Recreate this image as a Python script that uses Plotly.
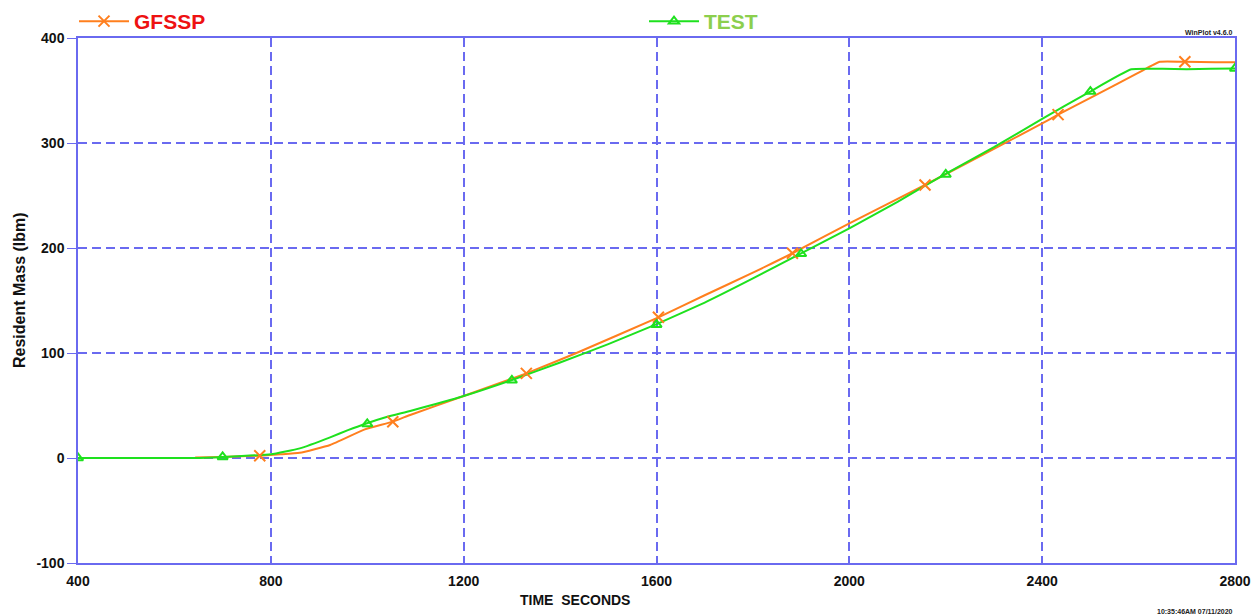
import plotly.graph_objects as go

# ---- data ----
gfssp_time = [643, 700, 777, 820, 860, 923, 995, 1053, 1089, 1200, 1330, 1434, 1604, 1700,
              1800, 1882, 2000, 2157, 2300, 2400, 2433, 2500, 2600, 2644, 2696, 2760, 2800]
gfssp_mass = [0.5, 1.0, 2.2, 3.5, 5.0, 12.4, 27.3, 34.6, 41.0, 59.0, 80.6, 100.0, 134.0, 155.0,
              176.5, 195.0, 223.5, 260.0, 294.5, 318.7, 327.0, 343.0, 367.0, 377.4, 377.4, 376.8, 376.8]
gfssp_mark_time = [777, 1053, 1330, 1604, 1882, 2157, 2433, 2696]
gfssp_mark_mass = [2.2, 34.6, 80.6, 134.0, 195.0, 260.0, 327.0, 377.4]

test_time = [400, 640, 700, 800, 860, 923, 960, 995, 1040, 1089, 1200, 1296, 1400, 1500, 1598,
             1700, 1800, 1896, 2000, 2100, 2195, 2300, 2400, 2492, 2585, 2650, 2700, 2750, 2800]
test_mass = [0.0, 0.0, 1.0, 3.5, 9.2, 19.7, 26.5, 32.4, 39.0, 44.8, 59.0, 73.6, 91.0, 108.5, 127.0,
             148.0, 171.0, 194.0, 218.7, 244.0, 269.5, 296.0, 323.0, 347.0, 370.2, 370.6, 370.3,
             370.8, 371.0]
test_mark_time = [400, 700, 1000, 1300, 1600, 1900, 2200, 2500, 2800]
test_mark_mass = [0.0, 1.0, 32.5, 74.0, 127.0, 194.5, 270.0, 349.0, 371.0]

x_ticks = [400, 800, 1200, 1600, 2000, 2400, 2800]
y_ticks = [-100, 0, 100, 200, 300, 400]

ORANGE = "#FF7F1E"
GREEN = "#1EE11E"
BLUE = "#6A6AF0"

fig = go.Figure()

# lines
fig.add_trace(go.Scatter(x=gfssp_time, y=gfssp_mass, mode="lines",
                         line=dict(color=ORANGE, width=2, shape="spline", smoothing=0.4),
                         showlegend=False, hoverinfo="skip"))
fig.add_trace(go.Scatter(x=test_time, y=test_mass, mode="lines",
                         line=dict(color=GREEN, width=2, shape="spline", smoothing=0.4),
                         showlegend=False, hoverinfo="skip"))
# markers
fig.add_trace(go.Scatter(x=gfssp_mark_time, y=gfssp_mark_mass, mode="markers",
                         marker=dict(symbol="x-thin-open", size=11, color=ORANGE,
                                     line=dict(color=ORANGE, width=2)),
                         showlegend=False))
fig.add_trace(go.Scatter(x=test_mark_time, y=test_mark_mass, mode="markers",
                         marker=dict(symbol="triangle-up-open", size=9, color=GREEN,
                                     line=dict(color=GREEN, width=2)),
                         showlegend=False))
# legend entries
fig.add_trace(go.Scatter(x=[None], y=[None], mode="lines+markers",
                         name='<b><span style="color:#EE1111">GFSSP</span></b>',
                         line=dict(color=ORANGE, width=2),
                         marker=dict(symbol="x-thin-open", size=11, color=ORANGE,
                                     line=dict(color=ORANGE, width=2))))
fig.add_trace(go.Scatter(x=[None], y=[None], mode="lines+markers",
                         name='<b><span style="color:#8CCF4D">TEST</span></b>',
                         line=dict(color=GREEN, width=2),
                         marker=dict(symbol="triangle-up-open", size=9, color=GREEN,
                                     line=dict(color=GREEN, width=2))))

axis_font = dict(family="Liberation Sans, Arial, sans-serif", size=14, color="#111111")

fig.update_layout(
    width=1258, height=615,
    margin=dict(l=78, r=23, t=38, b=52, autoexpand=False),
    paper_bgcolor="white", plot_bgcolor="white",
    font=dict(family="Liberation Sans, Arial, sans-serif"),
    showlegend=True,
    legend=dict(orientation="h", xref="container", yref="container",
                x=74 / 1258, y=1 - 1 / 615, xanchor="left", yanchor="top",
                entrywidth=505, itemwidth=50,
                font=dict(family="Liberation Sans, Arial, sans-serif", size=21),
                bgcolor="rgba(0,0,0,0)"),
    xaxis=dict(range=[400, 2800], tickvals=x_ticks, ticktext=[f"<b>{v}</b>" for v in x_ticks],
               showgrid=True, gridcolor=BLUE, griddash="9px,5px", gridwidth=1.5,
               showline=True, linecolor=BLUE, linewidth=1.5, mirror=True,
               ticks="", ticklabelstandoff=4, tickfont=axis_font, zeroline=False),
    yaxis=dict(range=[-100, 400], tickvals=y_ticks, ticktext=[f"<b>{v}</b>" for v in y_ticks],
               showgrid=True, gridcolor=BLUE, griddash="9px,5px", gridwidth=1.5,
               showline=True, linecolor=BLUE, linewidth=1.5, mirror=True,
               ticks="outside", ticklen=9, tickcolor=BLUE, tickwidth=1,
               tickfont=axis_font, zeroline=False),
    annotations=[
        dict(text="<b>Resident Mass (lbm)</b>", xref="paper", yref="paper",
             x=-0.051, y=0.52, xanchor="center", yanchor="middle", textangle=-90,
             showarrow=False, font=dict(size=16, color="#111111")),
        dict(text="<b>TIME\u00a0 SECONDS</b>", xref="paper", yref="paper",
             x=0.4296, y=-0.0705, xanchor="center", yanchor="middle",
             showarrow=False, font=dict(size=14, color="#111111")),
        dict(text="<b>WinPlot v4.6.0</b>", xref="paper", yref="paper",
             x=1.0, y=1.0, xanchor="right", yanchor="bottom",
             showarrow=False, font=dict(size=7, color="#222222")),
        dict(text="<b>10:35:46AM 07/11/2020</b>", xref="paper", yref="paper",
             x=1.0, y=-0.0933, xanchor="right", yanchor="middle",
             showarrow=False, font=dict(size=7, color="#222222")),
    ],
)

fig.write_html("out.html")
